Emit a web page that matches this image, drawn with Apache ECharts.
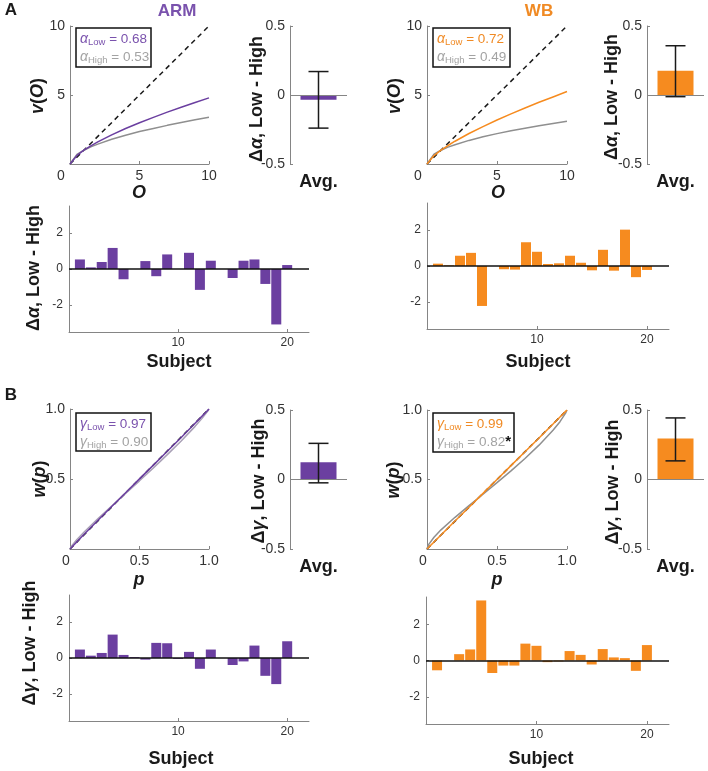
<!DOCTYPE html>
<html><head><meta charset="utf-8">
<script src="https://cdn.jsdelivr.net/npm/echarts@6/dist/echarts.min.js"></script>
<style>html,body{margin:0;padding:0;background:#fff}#c{width:708px;height:771px}</style>
</head><body><div id="c"></div>
<script>
// ---------------- DATA ----------------
// Value function v(O)
const outcome        = [0, 0.5, 1, 1.5, 2, 3, 4, 5, 6, 7, 8, 9, 10];
const armValueLow    = [0, 0.62, 1.0, 1.32, 1.60, 2.11, 2.57, 2.99, 3.38, 3.76, 4.11, 4.46, 4.79];
const armValueHigh   = [0, 0.69, 1.0, 1.24, 1.44, 1.79, 2.08, 2.35, 2.58, 2.80, 3.00, 3.20, 3.39];
const wbValueLow     = [0, 0.61, 1.0, 1.34, 1.65, 2.21, 2.71, 3.19, 3.63, 4.06, 4.47, 4.86, 5.25];
const wbValueHigh    = [0, 0.71, 1.0, 1.22, 1.40, 1.71, 1.97, 2.20, 2.41, 2.59, 2.77, 2.93, 3.09];
const identityA      = [0, 10];
// Probability weighting w(p)
const prob           = [0, 0.01, 0.05, 0.1, 0.2, 0.3, 0.4, 0.5, 0.6, 0.7, 0.8, 0.9, 0.95, 0.99, 1];
const armWeightLow   = [0, 0.011, 0.052, 0.103, 0.204, 0.303, 0.402, 0.501, 0.599, 0.698, 0.797, 0.898, 0.949, 0.990, 1];
const armWeightHigh  = [0, 0.019, 0.068, 0.120, 0.216, 0.307, 0.397, 0.487, 0.579, 0.674, 0.772, 0.876, 0.933, 0.984, 1];
const wbWeightLow    = [0, 0.010, 0.051, 0.101, 0.201, 0.301, 0.400, 0.500, 0.600, 0.699, 0.799, 0.899, 0.950, 0.990, 1];
const wbWeightHigh   = [0, 0.030, 0.085, 0.138, 0.228, 0.312, 0.394, 0.477, 0.562, 0.651, 0.747, 0.854, 0.916, 0.977, 1];
const identityB      = [0, 1];
// Averages (mean, lower, upper)
const avgCategory    = ['Avg.'];
const armAlphaAvg    = [-0.035, -0.24, 0.17];
const wbAlphaAvg     = [0.175, -0.012, 0.357];
const armGammaAvg    = [0.125, -0.024, 0.26];
const wbGammaAvg     = [0.295, 0.134, 0.443];
// Per subject differences
const subjects       = [1,2,3,4,5,6,7,8,9,10,11,12,13,14,15,16,17,18,19,20];
const armAlphaDiff   = [0.53, 0.09, 0.39, 1.17, -0.57, 0, 0.44, -0.40, 0.81, 0, 0.90, -1.16, 0.46, 0, -0.50, 0.46, 0.53, -0.83, -3.08, 0.22];
const wbAlphaDiff    = [0.13, 0.04, 0.57, 0.73, -2.22, 0, -0.18, -0.20, 1.32, 0.79, 0.11, 0.15, 0.57, 0.18, -0.24, 0.90, -0.26, 2.02, -0.62, -0.22];
const armGammaDiff   = [0.47, 0.13, 0.28, 1.30, 0.17, 0.05, -0.09, 0.84, 0.82, -0.05, 0.34, -0.60, 0.47, 0, -0.39, -0.19, 0.69, -0.99, -1.45, 0.93];
const wbGammaDiff    = [-0.54, 0, 0.35, 0.61, 3.31, -0.69, -0.28, -0.28, 0.93, 0.81, -0.09, -0.05, 0.52, 0.31, -0.22, 0.63, 0.17, 0.13, -0.57, 0.85];
// Tick values
const valueTicks     = [0, 5, 10];
const valueYLabels   = [5, 10];
const probTicks      = [0, 0.5, 1];
const probYLabels    = [0.5, 1];
const avgTicks       = [-0.5, 0, 0.5];
const subjXTicks     = [10, 20];
const subjYTicks     = [-2, 0, 2];

// ---------------- STYLE ----------------
const FONT = '"Liberation Sans", Arial, Helvetica, sans-serif';
const PURPLE = '#6b3fa0', PURPLE_T = '#7a52ad';
const ORANGE = '#f68b1f', ORANGE_T = '#f08a24';
const GRAY = '#8f8f8f', GRAY_T = '#a3a3a3';
const AXIS = '#858585', TXT = '#333333';

const grids = [], xAxes = [], yAxes = [], series = [], graphics = [];
function addGrid(r) {
  grids.push({left: r[0], top: r[1], width: r[2], height: r[3], containLabel: false, outerBoundsMode: 'none'});
  return grids.length - 1;
}
function valAxis(gi, min, max, ticks, labels, fmt, fs, margin, rich) {
  return {
    gridIndex: gi, type: 'value', min: min, max: max,
    axisLine: {show: true, onZero: false, lineStyle: {color: AXIS, width: 1}},
    axisTick: {show: true, inside: true, length: 3, customValues: ticks, lineStyle: {color: AXIS}},
    axisLabel: {show: true, customValues: labels, formatter: fmt, color: TXT, fontSize: fs, fontFamily: FONT, margin: margin,
      showMinLabel: true, showMaxLabel: true, rich: rich},
    splitLine: {show: false}
  };
}
const fmtInt = v => String(Math.round(v));
const fmtOrigin = v => (v === 0 ? '{z|0}' : String(Math.round(v)));
const fmtProb = v => (v === 0 ? '{z|0}' : v.toFixed(1));
const fmtAvg = v => (v === 0 ? '0' : String(v));

function curvePanel(rect, xs, ticks, yLabels, fmt, identity, lines, shift) {
  const gi = addGrid(rect);
  const rich = {z: {fontSize: 14, fontFamily: FONT, color: TXT, padding: [0, shift, 0, 0]}};
  xAxes.push(valAxis(gi, ticks[0], ticks[ticks.length - 1], ticks, ticks, fmt, 14, 5, rich));
  yAxes.push(valAxis(gi, ticks[0], ticks[ticks.length - 1], ticks, yLabels, fmt, 14, 5));
  const ai = xAxes.length - 1;
  series.push({type: 'line', xAxisIndex: ai, yAxisIndex: ai, data: identity.map(v => [v, v]), symbol: 'none',
    lineStyle: {color: '#1a1a1a', width: 1.5, type: [5, 4]}, silent: true, z: 2});
  lines.forEach(l => series.push({type: 'line', xAxisIndex: ai, yAxisIndex: ai,
    data: xs.map((x, i) => [x, l.y[i]]), symbol: 'none', lineStyle: {color: l.color, width: 1.5}, silent: true, z: l.z}));
}
function avgPanel(rect, stats, color) {
  const gi = addGrid(rect);
  xAxes.push({gridIndex: gi, type: 'category', data: avgCategory, axisLine: {show: false}, axisTick: {show: false},
    axisLabel: {color: '#1a1a1a', fontSize: 18, fontWeight: 'bold', fontFamily: FONT, margin: 9}, splitLine: {show: false}});
  yAxes.push(valAxis(gi, -0.5, 0.5, avgTicks, avgTicks, fmtAvg, 14, 5));
  const ai = xAxes.length - 1;
  series.push({type: 'bar', xAxisIndex: ai, yAxisIndex: ai, data: [stats[0]], barWidth: 36, itemStyle: {color: color}, silent: true,
    markLine: {silent: true, symbol: 'none', label: {show: false}, lineStyle: {color: AXIS, width: 1, type: 'solid'}, data: [{yAxis: 0}]}});
  series.push({type: 'custom', xAxisIndex: ai, yAxisIndex: ai, data: [[0, stats[1], stats[2]]], silent: true, z: 5,
    renderItem: function (p, api) {
      const lo = api.coord([api.value(0), api.value(1)]);
      const hi = api.coord([api.value(0), api.value(2)]);
      const h = 10, st = {stroke: '#1a1a1a', lineWidth: 1.5};
      return {type: 'group', children: [
        {type: 'line', shape: {x1: lo[0], y1: lo[1], x2: hi[0], y2: hi[1]}, style: st},
        {type: 'line', shape: {x1: lo[0] - h, y1: lo[1], x2: lo[0] + h, y2: lo[1]}, style: st},
        {type: 'line', shape: {x1: hi[0] - h, y1: hi[1], x2: hi[0] + h, y2: hi[1]}, style: st}
      ]};
    }});
}
function subjPanel(rect, vals, color) {
  const gi = addGrid(rect);
  xAxes.push(valAxis(gi, 0, 22, subjXTicks, subjXTicks, fmtInt, 12, 5));
  yAxes.push(valAxis(gi, -3.5, 3.5, subjYTicks, subjYTicks, fmtInt, 12, 6));
  const ai = xAxes.length - 1;
  series.push({type: 'bar', xAxisIndex: ai, yAxisIndex: ai, data: subjects.map((s, i) => [s, vals[i]]), barWidth: 10,
    itemStyle: {color: color}, silent: true,
    markLine: {silent: true, symbol: 'none', label: {show: false}, lineStyle: {color: '#111', width: 1.5, type: 'solid'}, data: [{yAxis: 0}], z: 6}});
}

// ---------------- PANELS ----------------
curvePanel([70, 26, 139, 138], outcome, valueTicks, valueYLabels, fmtOrigin, identityA,
  [{y: armValueHigh, color: GRAY, z: 3}, {y: armValueLow, color: PURPLE, z: 4}], 18);
avgPanel([290, 26, 57, 138], armAlphaAvg, PURPLE);
curvePanel([427, 26, 140, 138], outcome, valueTicks, valueYLabels, fmtOrigin, identityA,
  [{y: wbValueHigh, color: GRAY, z: 3}, {y: wbValueLow, color: ORANGE, z: 4}], 18);
avgPanel([647, 26, 57, 138], wbAlphaAvg, ORANGE);
subjPanel([69, 206, 240, 126], armAlphaDiff, PURPLE);
subjPanel([427, 203, 242, 126], wbAlphaDiff, ORANGE);

curvePanel([70, 409, 139, 140], prob, probTicks, probYLabels, fmtProb, identityB,
  [{y: armWeightHigh, color: '#a9a0b6', z: 3}, {y: armWeightLow, color: PURPLE, z: 4}], 8);
avgPanel([290, 410, 57, 139], armGammaAvg, PURPLE);
curvePanel([427, 410, 140, 139], prob, probTicks, probYLabels, fmtProb, identityB,
  [{y: wbWeightHigh, color: GRAY, z: 3}, {y: wbWeightLow, color: ORANGE, z: 4}], 8);
avgPanel([647, 410, 57, 139], wbGammaAvg, ORANGE);
subjPanel([69, 595, 240, 126], armGammaDiff, PURPLE);
subjPanel([426, 597, 243, 127], wbGammaDiff, ORANGE);

// ---------------- TEXT ----------------
function txt(x, y, text, opt) {
  opt = opt || {};
  const el = {type: 'text', x: x, y: y, z: 100, silent: true,
    style: Object.assign({text: text, x: 0, y: 0, align: 'center', verticalAlign: 'middle', textAlign: 'center', textVerticalAlign: 'middle',
      fill: '#1a1a1a', fontSize: 18, fontWeight: 'bold', fontFamily: FONT}, opt.style || {})};
  if (opt.rot) el.rotation = Math.PI / 2;
  graphics.push(el);
}
const richLabel = {
  n: {fontSize: 18, fontWeight: 'bold', fontFamily: FONT, fill: '#1a1a1a', color: '#1a1a1a'},
  i: {fontSize: 18, fontWeight: 'bold', fontStyle: 'italic', fontFamily: FONT, fill: '#1a1a1a', color: '#1a1a1a'}
};
function rtxt(x, y, text, rot) { txt(x, y, text, {rot: rot, style: {rich: richLabel}}); }

txt(11, 10, 'A', {style: {fontSize: 17}});
txt(11, 395, 'B', {style: {fontSize: 17}});
txt(177, 11, 'ARM', {style: {fontSize: 17, fill: PURPLE_T}});
txt(539, 11, 'WB', {style: {fontSize: 17, fill: ORANGE_T}});

rtxt(38, 96, '{i|v}{n|(}{i|O}{n|)}', true);
rtxt(395, 96, '{i|v}{n|(}{i|O}{n|)}', true);
rtxt(139, 193, '{i|O}');
rtxt(498, 193, '{i|O}');
rtxt(257, 99, '{n|Δ}{i|α}{n|, Low - High}', true);
rtxt(612, 97, '{n|Δ}{i|α}{n|, Low - High}', true);
rtxt(34, 268, '{n|Δ}{i|α}{n|, Low - High}', true);
txt(179, 362, 'Subject');
txt(538, 362, 'Subject');

rtxt(40, 479, '{i|w}{n|(}{i|p}{n|)}', true);
rtxt(394, 480, '{i|w}{n|(}{i|p}{n|)}', true);
rtxt(139, 580, '{i|p}');
rtxt(497, 580, '{i|p}');
rtxt(259, 481, '{n|Δ}{i|γ}{n|, Low - High}', true);
rtxt(613, 482, '{n|Δ}{i|γ}{n|, Low - High}', true);
rtxt(30, 643, '{n|Δ}{i|γ}{n|, Low - High}', true);
txt(181, 759, 'Subject');
txt(541, 759, 'Subject');

// legend boxes
function legendBox(x, y, w, h, lines) {
  graphics.push({type: 'rect', z: 90, silent: true, shape: {x: x, y: y, width: w, height: h},
    style: {fill: '#fff', stroke: '#111', lineWidth: 1.5}});
  lines.forEach((l, k) => {
    const c = l.color;
    const rich = {
      g: {fontSize: 14, fontStyle: 'italic', fontFamily: FONT, fill: c, color: c, lineHeight: 16},
      s: {fontSize: 9.5, fontFamily: FONT, fill: c, color: c, lineHeight: 10, verticalAlign: 'bottom'},
      t: {fontSize: 13.5, fontFamily: FONT, fill: c, color: c, lineHeight: 16},
      star: {fontSize: 15, fontWeight: 'bold', fontFamily: FONT, fill: '#111', color: '#111', lineHeight: 16, verticalAlign: 'top'}
    };
    graphics.push({type: 'text', z: 95, silent: true, x: x + 4, y: y + 11 + k * 18,
      style: {text: l.text, x: 0, y: 0, align: 'left', textAlign: 'left', verticalAlign: 'middle', textVerticalAlign: 'middle', rich: rich}});
  });
}
legendBox(76, 28, 75, 39, [{text: '{g|α}{s|Low}{t| = 0.68}', color: PURPLE_T}, {text: '{g|α}{s|High}{t| = 0.53}', color: GRAY_T}]);
legendBox(433, 28, 77, 39, [{text: '{g|α}{s|Low}{t| = 0.72}', color: ORANGE_T}, {text: '{g|α}{s|High}{t| = 0.49}', color: GRAY_T}]);
legendBox(76, 413, 75, 38, [{text: '{g|γ}{s|Low}{t| = 0.97}', color: PURPLE_T}, {text: '{g|γ}{s|High}{t| = 0.90}', color: GRAY_T}]);
legendBox(433, 413, 81, 39, [{text: '{g|γ}{s|Low}{t| = 0.99}', color: ORANGE_T}, {text: '{g|γ}{s|High}{t| = 0.82}{star|*}', color: GRAY_T}]);

const chart = echarts.init(document.getElementById('c'), null, {renderer: 'canvas'});
chart.setOption({
  backgroundColor: '#ffffff',
  animation: false,
  textStyle: {fontFamily: FONT},
  grid: grids, xAxis: xAxes, yAxis: yAxes, series: series, graphic: graphics,
  tooltip: {show: false}
});
</script></body></html>
